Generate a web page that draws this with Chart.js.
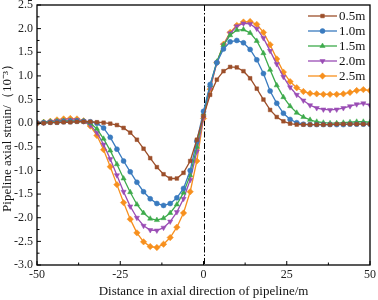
<!DOCTYPE html>
<html>
<head>
<meta charset="utf-8">
<script src="https://cdn.jsdelivr.net/npm/chart.js@4/dist/chart.umd.min.js"></script>
<style>
html,body{margin:0;padding:0;background:#fff;}
#wrap{width:378px;height:300px;}
</style>
</head>
<body>
<div id="wrap"><canvas id="c" width="378" height="300"></canvas></div>
<script>
const distance = [-50,-48,-46,-44,-42,-40,-38,-36,-34,-32,-30,-28,-26,-24,-22,-20,-18,-16,-14,-12,-10,-8,-6,-4,-2,0,2,4,6,8,10,12,14,16,18,20,22,24,26,28,30,32,34,36,38,40,42,44,46,48,50];
const seriesNames = ["0.5m","1.0m","1.5m","2.0m","2.5m"];
const strain05 = [0.0,0.0,0.01,0.01,0.02,0.02,0.03,0.03,0.03,0.02,0.01,-0.01,-0.04,-0.1,-0.2,-0.35,-0.54,-0.74,-0.93,-1.08,-1.17,-1.17,-1.05,-0.8,-0.35,0.15,0.6,0.92,1.1,1.19,1.18,1.1,0.95,0.73,0.5,0.28,0.13,0.04,-0.01,-0.03,-0.03,-0.03,-0.03,-0.03,-0.03,-0.02,-0.02,-0.02,-0.02,-0.02,-0.02];
const strain10 = [0.01,0.01,0.02,0.02,0.03,0.03,0.04,0.04,0.03,0.0,-0.1,-0.3,-0.55,-0.8,-1.03,-1.25,-1.45,-1.6,-1.7,-1.74,-1.7,-1.58,-1.38,-1.0,-0.38,0.25,0.82,1.28,1.57,1.72,1.75,1.7,1.56,1.34,1.05,0.68,0.42,0.21,0.08,0.01,-0.02,-0.03,-0.03,-0.03,-0.03,-0.03,-0.03,-0.02,-0.02,-0.02,-0.02];
const strain15 = [0.01,0.02,0.03,0.04,0.05,0.05,0.05,0.04,0.0,-0.12,-0.33,-0.58,-0.87,-1.17,-1.46,-1.72,-1.9,-2.02,-2.05,-2.01,-1.9,-1.72,-1.47,-1.1,-0.5,0.2,0.8,1.3,1.65,1.86,1.97,1.98,1.91,1.74,1.48,1.13,0.8,0.55,0.36,0.22,0.13,0.07,0.03,0.01,0.0,0.0,0.01,0.02,0.03,0.03,0.02];
const strain20 = [0.0,0.01,0.03,0.05,0.06,0.07,0.07,0.04,-0.04,-0.2,-0.45,-0.76,-1.1,-1.45,-1.76,-2.0,-2.17,-2.26,-2.27,-2.21,-2.08,-1.88,-1.6,-1.2,-0.6,0.12,0.75,1.28,1.65,1.9,2.05,2.11,2.1,2.0,1.8,1.53,1.25,0.98,0.76,0.6,0.48,0.38,0.32,0.29,0.28,0.29,0.32,0.36,0.4,0.42,0.38];
const strain25 = [0.0,0.02,0.04,0.07,0.09,0.1,0.09,0.05,-0.06,-0.26,-0.56,-0.92,-1.3,-1.68,-2.03,-2.32,-2.51,-2.61,-2.63,-2.56,-2.42,-2.2,-1.9,-1.45,-0.8,0.1,0.72,1.28,1.67,1.92,2.07,2.14,2.15,2.09,1.92,1.66,1.36,1.08,0.88,0.75,0.67,0.63,0.62,0.61,0.61,0.61,0.62,0.65,0.69,0.71,0.69];
const xTicks = [-50,-25,0,25,50];
const yTicks = [-3.0,-2.5,-2.0,-1.5,-1.0,-0.5,0.0,0.5,1.0,1.5,2.0,2.5];

const colors = ["#9C4F2A","#3A7BBF","#3DAA4B","#9A4DB5","#F7901E"];
const styles = [
  {pointStyle:'rect', rotation:0, radius:2.6},
  {pointStyle:'circle', rotation:0, radius:2.5},
  {pointStyle:'triangle', rotation:0, radius:3},
  {pointStyle:'triangle', rotation:180, radius:3},
  {pointStyle:'rectRot', rotation:0, radius:3.2}
];
const allSeries = [strain05,strain10,strain15,strain20,strain25];

const datasets = allSeries.map((s,i)=>({
  label: seriesNames[i],
  data: distance.map((x,j)=>({x:x,y:s[j]})),
  borderColor: colors[i],
  backgroundColor: colors[i],
  borderWidth: 1.3,
  pointStyle: styles[i].pointStyle,
  pointRotation: styles[i].rotation,
  pointRadius: styles[i].radius,
  pointBorderWidth: 0.5,
  tension: 0
}));

const FONT = "'Liberation Serif','Times New Roman',serif";

const decor = {
  id:'decor',
  beforeDatasetsDraw(chart){
    const ctx = chart.ctx, a = chart.chartArea, xs = chart.scales.x;
    ctx.save();
    ctx.strokeStyle = '#000';
    ctx.lineWidth = 1;
    ctx.setLineDash([6,2,1.5,2]);
    const x0 = Math.round(xs.getPixelForValue(0))+0.5;
    ctx.beginPath(); ctx.moveTo(x0,a.top); ctx.lineTo(x0,a.bottom); ctx.stroke();
    ctx.restore();
  },
  afterDraw(chart){
    const ctx = chart.ctx, a = chart.chartArea, xs = chart.scales.x, ys = chart.scales.y;
    ctx.save();
    ctx.strokeStyle = '#000';
    ctx.lineWidth = 1.3;
    ctx.setLineDash([]);
    ctx.strokeRect(a.left, a.top, a.right-a.left, a.bottom-a.top);
    ctx.lineWidth = 1;
    ctx.beginPath();
    for (let i=0;i<xTicks.length;i++){
      const px = xs.getPixelForValue(xTicks[i]);
      ctx.moveTo(px, a.bottom); ctx.lineTo(px, a.bottom-4);
      if (i<xTicks.length-1){
        const pm = xs.getPixelForValue((xTicks[i]+xTicks[i+1])/2);
        ctx.moveTo(pm, a.bottom); ctx.lineTo(pm, a.bottom-2.5);
      }
    }
    for (let i=0;i<yTicks.length;i++){
      const py = ys.getPixelForValue(yTicks[i]);
      ctx.moveTo(a.left, py); ctx.lineTo(a.left+4, py);
      if (i<yTicks.length-1){
        const pm = ys.getPixelForValue((yTicks[i]+yTicks[i+1])/2);
        ctx.moveTo(a.left, pm); ctx.lineTo(a.left+2.5, pm);
      }
    }
    ctx.stroke();
    // legend
    const lx0 = a.right-62, lx1 = a.right-33, ly0 = a.top+11, dy = 15;
    chart.data.datasets.forEach((ds,i)=>{
      const y = ly0 + i*dy;
      ctx.strokeStyle = ds.borderColor;
      ctx.fillStyle = ds.backgroundColor;
      ctx.lineWidth = 1.3;
      ctx.beginPath(); ctx.moveTo(lx0,y); ctx.lineTo(lx1,y); ctx.stroke();
      ctx.lineWidth = 0.5;
      Chart.helpers.drawPoint(ctx,{pointStyle:ds.pointStyle,rotation:ds.pointRotation,radius:ds.pointRadius,borderWidth:0.5},(lx0+lx1)/2,y);
      ctx.fillStyle = '#111';
      ctx.font = "13px "+FONT;
      ctx.textBaseline = 'middle';
      ctx.textAlign = 'left';
      ctx.fillText(ds.label, lx1+2, y+0.5);
    });
    ctx.restore();
  }
};

new Chart(document.getElementById('c'),{
  type:'line',
  data:{datasets:datasets},
  options:{
    responsive:false,
    animation:false,
    devicePixelRatio:1,
    layout:{padding:{left:0,right:8,top:5,bottom:0}},
    plugins:{legend:{display:false},tooltip:{enabled:false}},
    scales:{
      x:{
        type:'linear', min:-50, max:50,
        afterBuildTicks:(s)=>{s.ticks = xTicks.map(v=>({value:v}));},
        afterFit:(s)=>{s.height=35; s.paddingLeft=0; s.paddingRight=0;},
        grid:{display:false, drawTicks:false},
        border:{display:false},
        ticks:{padding:3, color:'#222', font:{family:FONT,size:12}, maxRotation:0, callback:(v)=>String(v)},
        title:{display:true, text:'Distance in axial direction of pipeline/m', color:'#111', font:{family:FONT,size:13}, padding:{top:0,bottom:1}}
      },
      y:{
        type:'linear', min:-3, max:2.5,
        afterBuildTicks:(s)=>{s.ticks = yTicks.map(v=>({value:v}));},
        afterFit:(s)=>{s.width=37; s.paddingTop=0; s.paddingBottom=0;},
        grid:{display:false, drawTicks:false},
        border:{display:false},
        ticks:{padding:4, color:'#222', font:{family:FONT,size:12}, callback:(v)=>v.toFixed(1)},
        title:{display:true, text:'Pipeline axial strain/（10⁻³）', color:'#111', font:{family:FONT,size:13}, padding:{top:0,bottom:0}}
      }
    }
  },
  plugins:[decor]
});
</script>
</body>
</html>
